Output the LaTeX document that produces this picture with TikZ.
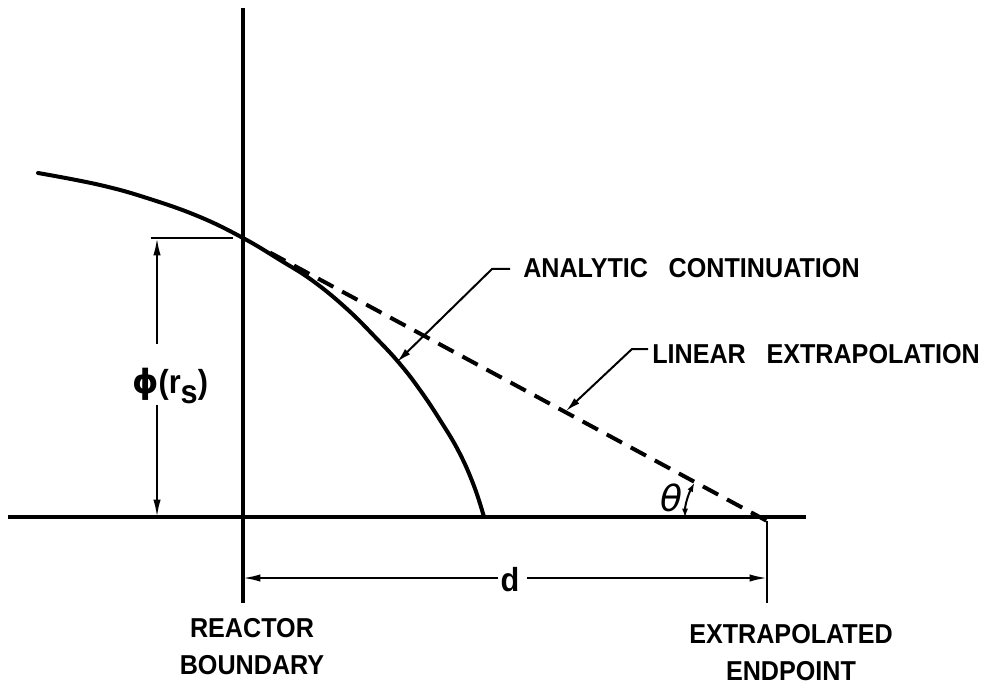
\documentclass[tikz,border=0pt]{standalone}
\usepackage{fontspec}
\setmainfont{Liberation Sans}
\newfontfamily\lett[FakeStretch=0.92]{Liberation Sans}
\newfontfamily\dv{DejaVu Sans}
\usetikzlibrary{arrows.meta}
\tikzset{
  heavy/.style={line width=3pt},
  thin/.style={line width=1.5pt},
  dimarrow/.style={thin,-{Latex[length=13pt,width=5.5pt]}},
  leader/.style={thin,-{Latex[length=11pt,width=5.5pt]}},
  lbl/.style={inner sep=0pt,font=\lett\fontsize{20.5}{28}\selectfont\bfseries},
}
\begin{document}
\begin{tikzpicture}[x=0.75pt,y=-0.75pt]
\useasboundingbox (0,0) rectangle (1005,691);
% key coordinates
\coordinate (vtop) at (243,8);
\coordinate (vbot) at (243,603);
\coordinate (aL) at (8,517);
\coordinate (aR) at (806,517);
\coordinate (P) at (243,238);
\coordinate (E) at (767,521);
\coordinate (Etick) at (767,603);
\coordinate (dashstart) at (270,252.6);
% axes
\draw[heavy] (vtop) -- (vbot);
\draw[heavy] (aL) -- (aR);
\draw[thin] (E) -- (Etick);
% curve
\draw[heavy,line cap=round] plot[smooth,tension=0.7] coordinates {(38,173) (100,185) (150,199) (200,217) (243,238) (280,260) (313,281) (347,309) (377,339) (400,364) (420,390) (440,420) (459,452) (474,486) (484,517)};
% dashed tangent
\draw[heavy,dash pattern=on 13pt off 7.5pt] (dashstart) -- (E);
% phi dimension
\coordinate (ext1) at (151,238);
\coordinate (ext2) at (233,238);
\draw[thin] (ext1) -- (ext2);
\node[inner sep=0pt,font=\lett\fontsize{25}{28}\selectfont\bfseries] (phi) at (170,386) {{\dv ϕ}(r\raisebox{-0.28em}{s})};
\coordinate (phT) at (157,238);
\coordinate (phB) at (157,517);
\coordinate (phT2) at (157,344);
\coordinate (phB2) at (157,405);
\draw[dimarrow] (phT2) -- (phT);
\draw[dimarrow] (phB2) -- (phB);
% d dimension
\node[inner sep=0pt,font=\lett\fontsize{25}{28}\selectfont\bfseries] (d) at (510,580) {d};
\coordinate (dL) at (243,578);
\coordinate (dR) at (767,578);
\coordinate (dL2) at (498,578);
\coordinate (dR2) at (527,578);
\draw[dimarrow] (dL2) -- (dL);
\draw[dimarrow] (dR2) -- (dR);
% theta
\node[inner sep=0pt,font=\fontsize{27}{28}\selectfont\dv\itshape] (th) at (672,498) {θ};
\coordinate (t1) at (685,518);
\coordinate (t2) at (694.6,482.5);
\draw[thin,{Latex[length=7pt,width=4.5pt]}-{Latex[length=7pt,width=4.5pt]}] (t1) .. controls (685,505) and (688.3,494.3) .. (t2);
% labels
\node[lbl,anchor=base west] (ac) at (523,277) {ANALYTIC\hspace{0.5em} CONTINUATION};
\node[lbl,anchor=base west] (le) at (652,363) {LINEAR\hspace{0.5em} EXTRAPOLATION};
\coordinate (acc) at (492,269);
\coordinate (acs) at (510,269);
\coordinate (actip) at (397,362);
\draw[leader] (acs) -- (acc) -- (actip);
\coordinate (lec) at (632,349);
\coordinate (les) at (648,349);
\coordinate (letip) at (566,411);
\draw[leader] (les) -- (lec) -- (letip);
\node[lbl,align=center,anchor=north] (rb) at (252,618) {REACTOR\\BOUNDARY};
\node[lbl,align=center,anchor=north] (ee) at (791,624) {EXTRAPOLATED\\ENDPOINT};
\end{tikzpicture}
\end{document}
